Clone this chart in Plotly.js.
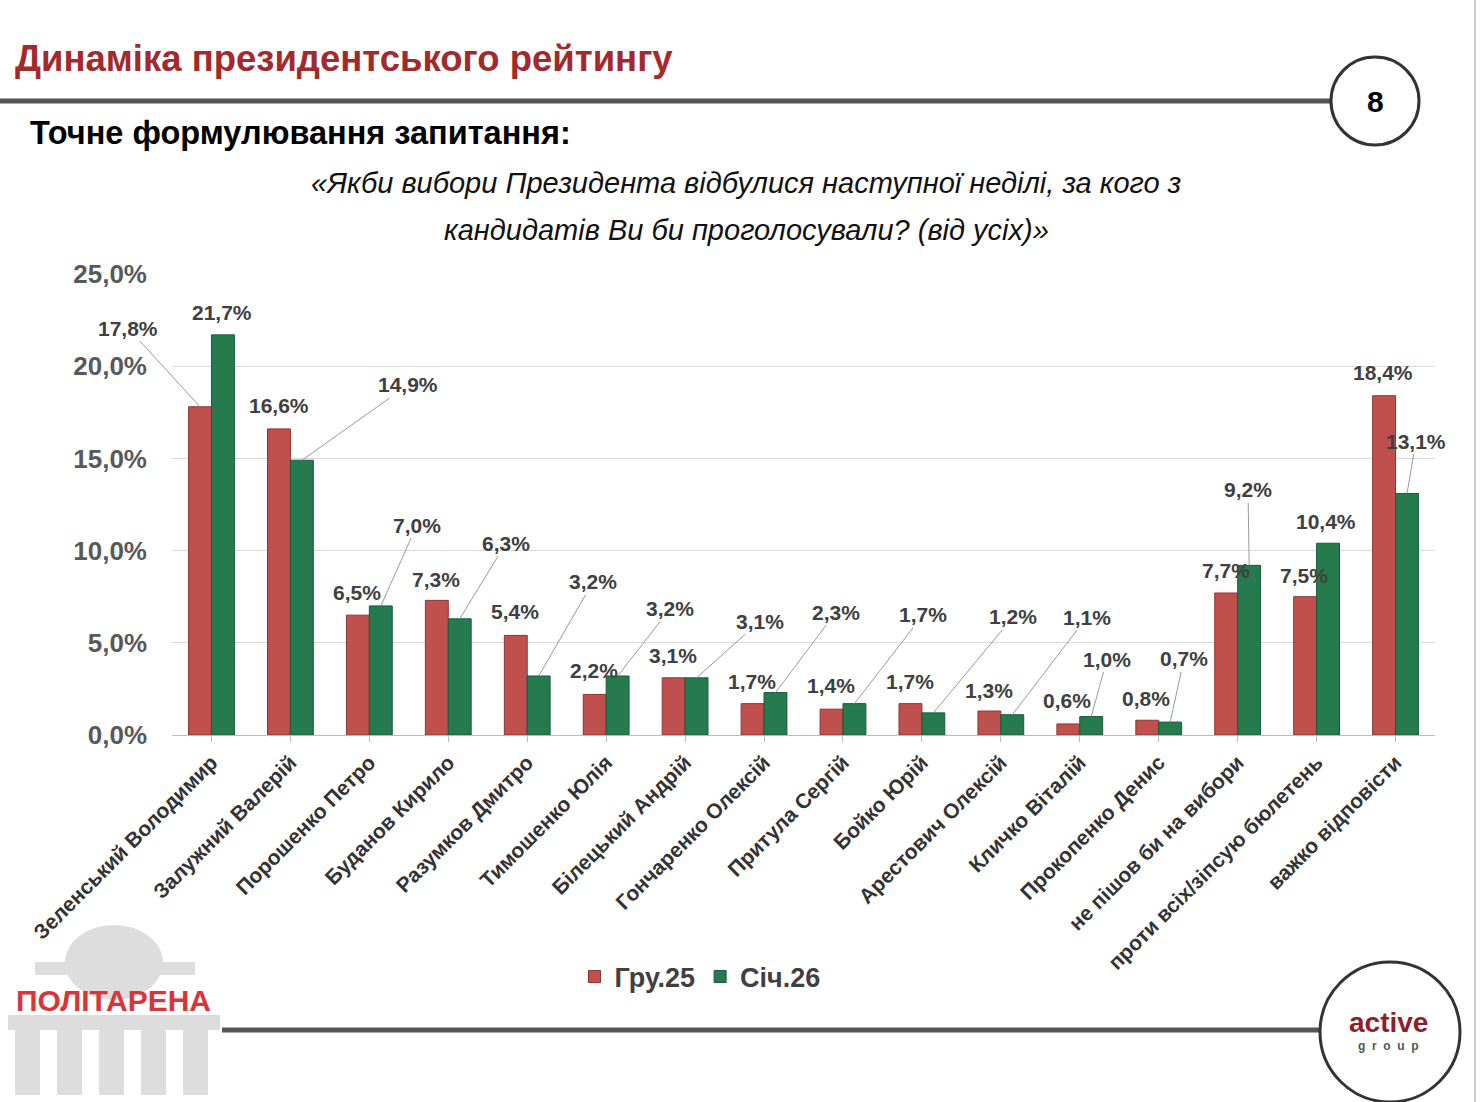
<!DOCTYPE html>
<html><head><meta charset="utf-8">
<script src="https://cdn.plot.ly/plotly-3.0.1.min.js"></script>
<style>body{margin:0;background:#fff}#chart{width:1480px;height:1102px}</style>
</head><body><div id="chart"></div>
<script>
var candidates = ["Зеленський Володимир","Залужний Валерій","Порошенко Петро","Буданов Кирило","Разумков Дмитро","Тимошенко Юлія","Білецький Андрій","Гончаренко Олексій","Притула Сергій","Бойко Юрій","Арестович Олексій","Кличко Віталій","Прокопенко Денис","не пішов би на вибори","проти всіх/зіпсую бюлетень","важко відповісти"];
var dec25 = [17.8,16.6,6.5,7.3,5.4,2.2,3.1,1.7,1.4,1.7,1.3,0.6,0.8,7.7,7.5,18.4];
var jan26 = [21.7,14.9,7.0,6.3,3.2,3.2,3.1,2.3,1.7,1.2,1.1,1.0,0.7,9.2,10.4,13.1];

// label centres in page pixels
var decLab = [[128,328],[279,405],[357,592],[436,579],[515,612],[594,671],[673,655],[752,682],[831,686],[910,682],[989,690],[1067,700],[1146,698],[1226,571],[1304,575],[1383,373]];
var janLab = [[222,313],[408,385],[417,525],[506,543],[593,582],[670,609],[760,621],[836,612],[923,615],[1013,617],[1087,617],[1107,659],[1184,659],[1248,490],[1326,522],[1416,441]];

var L = 172, R = 1435, T = 274, B = 735, W = 1480, H = 1102;
var slot = (R - L) / candidates.length;
function fx(p){ return (p - L) / (R - L); }
function fy(p){ return (B - p) / (B - T); }
function topPx(v){ return B - v / 25 * (B - T); }

var red = "#C0504D", green = "#257A4E";
var annotations = [];
function addLabel(i, v, lab, shift){
  var bx = L + slot * (i + 0.5) + shift, by = topPx(v);
  var dx = lab[0] - bx, dy = lab[1] - by;
  var far = Math.abs(dx) > 25 || dy < -40;
  annotations.push({x: i, y: v, xref: "x", yref: "y", xshift: shift,
    text: v.toFixed(1).replace(".", ",") + "%", showarrow: true, arrowhead: 0,
    arrowwidth: far ? 1 : 0.1, arrowcolor: far ? "#999" : "rgba(0,0,0,0)", ax: dx, ay: dy,
    font: {family: "Liberation Sans", size: 21, color: "#404040", weight: "bold"}});
}
dec25.forEach(function(v, i){ addLabel(i, v, decLab[i], -11.5); });
jan26.forEach(function(v, i){ addLabel(i, v, janLab[i], 11.5); });

function txt(x, y, s, size, color, extra){
  var a = {xref: "paper", yref: "paper", x: fx(x), y: fy(y), yanchor: "middle", text: s, showarrow: false,
    font: {family: "Liberation Sans", size: size, color: color, weight: "bold"}, xanchor: "left"};
  return Object.assign(a, extra || {});
}
var qFont = {family: "Liberation Sans", size: 29, color: "#111"};
annotations.push(txt(13, 58, "Динаміка президентського рейтингу", 36.5, "#A32A2C"));
annotations.push(txt(28, 133, "Точне формулювання запитання:", 32.5, "#000"));
annotations.push(txt(746, 183, "<i>«Якби вибори Президента відбулися наступної неділі, за кого з</i>", 29, "#111", {xanchor: "center", font: qFont}));
annotations.push(txt(746, 230, "<i>кандидатів Ви би проголосували? (від усіх)»</i>", 29, "#111", {xanchor: "center", font: qFont}));
annotations.push(txt(1375, 101, "8", 30, "#000", {xanchor: "center"}));
annotations.push(txt(113, 1000, "ПОЛІТАРЕНА", 30, "#D9343A", {xanchor: "center"}));
annotations.push(txt(1388, 1022, "active", 28, "#8E1F2A", {xanchor: "center"}));
annotations.push(txt(1388, 1046, "g  r  o  u  p", 12, "#555", {xanchor: "center"}));

function pshape(o){ return Object.assign({xref: "paper", yref: "paper"}, o); }
var shapes = [
  pshape({type: "circle", x0: fx(65), x1: fx(163), y0: fy(925), y1: fy(1000), line: {width: 0}, fillcolor: "#ddd", layer: "below"}),
  pshape({type: "rect", x0: fx(35), x1: fx(195), y0: fy(962), y1: fy(975), line: {width: 0}, fillcolor: "#ddd", layer: "below"}),
  pshape({type: "rect", x0: fx(8), x1: fx(220), y0: fy(1015), y1: fy(1030), line: {width: 0}, fillcolor: "#ddd", layer: "below"})
];
for (var k = 0; k < 5; k++) {
  shapes.push(pshape({type: "rect", x0: fx(15 + k * 42), x1: fx(40 + k * 42), y0: fy(1030), y1: fy(1095), line: {width: 0}, fillcolor: "#ddd", layer: "below"}));
}
shapes.push(pshape({type: "line", x0: fx(0), x1: fx(1332), y0: fy(101), y1: fy(101), line: {color: "#555", width: 5}}));
shapes.push(pshape({type: "circle", x0: fx(1331), x1: fx(1419), y0: fy(57), y1: fy(145), line: {color: "#333", width: 3}, fillcolor: "#fff"}));
shapes.push(pshape({type: "line", x0: fx(222), x1: fx(1322), y0: fy(1030), y1: fy(1030), line: {color: "#555", width: 5}}));
shapes.push(pshape({type: "circle", x0: fx(1320), x1: fx(1460), y0: fy(962), y1: fy(1102), line: {color: "#333", width: 3}, fillcolor: "#fff"}));
shapes.push(pshape({type: "line", x0: fx(1475), x1: fx(1475), y0: fy(0), y1: fy(1102), line: {color: "#ccc", width: 2}}));

var traces = [
  {type: "bar", name: "Гру.25", x: candidates, y: dec25, marker: {color: red, line: {color: "#8a3533", width: 1}}},
  {type: "bar", name: "Січ.26", x: candidates, y: jan26, marker: {color: green, line: {color: "#1a5a39", width: 1}}}
];

var layout = {
  width: W, height: H, margin: {l: L, r: W - R, t: T, b: H - B, autoexpand: false},
  paper_bgcolor: "#fff", plot_bgcolor: "#fff",
  barmode: "group", bargap: 0.42, bargroupgap: 0,
  showlegend: true,
  legend: {orientation: "h", x: fx(700), xanchor: "center", y: fy(977), yanchor: "middle",
    font: {family: "Liberation Sans", size: 27, color: "#404040", weight: "bold"}, traceorder: "normal"},
  xaxis: {type: "category", range: [-0.5, candidates.length - 0.5], automargin: false, tickangle: -45,
    tickfont: {family: "Liberation Sans", size: 21, color: "#333", weight: "bold"},
    showline: true, linecolor: "#bbb", ticks: "outside", ticklen: 6, tickcolor: "#bbb"},
  yaxis: {automargin: false, range: [0, 25], dtick: 5, tickformat: ".1f", ticksuffix: "%",
    tickfont: {family: "Liberation Sans", size: 26, color: "#595959", weight: "bold"},
    gridcolor: "#d9d9d9", zeroline: false, ticklabelstandoff: 24},
  separators: ", ",
  annotations: annotations, shapes: shapes
};
Plotly.newPlot("chart", traces, layout, {displayModeBar: false, staticPlot: true});
</script></body></html>
